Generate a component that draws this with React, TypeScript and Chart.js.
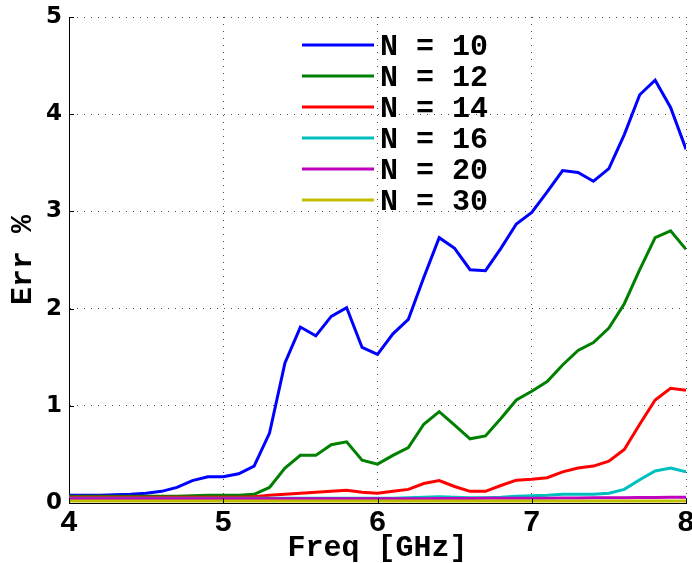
import React, { useEffect, useRef } from "react";
import { Chart, registerables } from "chart.js";

Chart.register(...registerables);

const freq = [
  4.0, 4.1, 4.2, 4.3, 4.4, 4.5, 4.6, 4.7, 4.8, 4.9,
  5.0, 5.1, 5.2, 5.3, 5.4, 5.5, 5.6, 5.7, 5.8, 5.9,
  6.0, 6.1, 6.2, 6.3, 6.4, 6.5, 6.6, 6.7, 6.8, 6.9,
  7.0, 7.1, 7.2, 7.3, 7.4, 7.5, 7.6, 7.7, 7.8, 7.9, 8.0,
];

const errN10 = [
  0.08, 0.08, 0.08, 0.085, 0.09, 0.1, 0.12, 0.16, 0.23, 0.27,
  0.27, 0.3, 0.38, 0.72, 1.44, 1.81, 1.72, 1.92, 2.01, 1.6,
  1.53, 1.74, 1.89, 2.32, 2.73, 2.62, 2.4, 2.39, 2.62, 2.87,
  2.99, 3.2, 3.42, 3.4, 3.31, 3.44, 3.79, 4.2, 4.35, 4.07, 3.64,
];

const errN12 = [
  0.07, 0.07, 0.07, 0.07, 0.07, 0.07, 0.07, 0.07, 0.075, 0.08,
  0.08, 0.08, 0.09, 0.16, 0.36, 0.49, 0.49, 0.6, 0.63, 0.44,
  0.4, 0.49, 0.57, 0.81, 0.94, 0.8, 0.66, 0.69, 0.87, 1.06,
  1.15, 1.25, 1.42, 1.57, 1.65, 1.8, 2.05, 2.4, 2.73, 2.8, 2.61,
];

const errN14 = [
  0.06, 0.06, 0.06, 0.06, 0.06, 0.06, 0.06, 0.06, 0.06, 0.06,
  0.06, 0.06, 0.065, 0.08, 0.09, 0.1, 0.11, 0.12, 0.13, 0.11,
  0.1, 0.12, 0.14, 0.2, 0.23, 0.17, 0.12, 0.12, 0.18, 0.235,
  0.245, 0.26, 0.32, 0.36, 0.38, 0.43, 0.55, 0.81, 1.06, 1.18, 1.16,
];

const errN16 = [
  0.05, 0.05, 0.05, 0.05, 0.05, 0.05, 0.05, 0.05, 0.05, 0.05,
  0.05, 0.05, 0.05, 0.05, 0.05, 0.05, 0.05, 0.05, 0.05, 0.05,
  0.05, 0.05, 0.055, 0.06, 0.065, 0.06, 0.055, 0.055, 0.06, 0.07,
  0.075, 0.08, 0.09, 0.09, 0.09, 0.1, 0.14, 0.24, 0.33, 0.36, 0.32,
];

const errN20 = [
  0.045, 0.045, 0.045, 0.045, 0.045, 0.045, 0.045, 0.045, 0.045, 0.045,
  0.045, 0.045, 0.045, 0.045, 0.045, 0.045, 0.045, 0.045, 0.045, 0.045,
  0.045, 0.045, 0.045, 0.045, 0.047, 0.047, 0.047, 0.048, 0.048, 0.049,
  0.05, 0.05, 0.051, 0.052, 0.053, 0.054, 0.055, 0.056, 0.057, 0.058, 0.06,
];

const errN30 = [
  0.02, 0.02, 0.02, 0.02, 0.02, 0.02, 0.02, 0.02, 0.02, 0.02,
  0.02, 0.02, 0.02, 0.02, 0.02, 0.02, 0.02, 0.02, 0.02, 0.02,
  0.02, 0.02, 0.02, 0.02, 0.02, 0.02, 0.02, 0.02, 0.02, 0.02,
  0.02, 0.02, 0.02, 0.02, 0.02, 0.02, 0.02, 0.02, 0.02, 0.02, 0.02,
];

const seriesLabels = ["N = 10", "N = 12", "N = 14", "N = 16", "N = 20", "N = 30"];
const seriesValues = [errN10, errN12, errN14, errN16, errN20, errN30];
const seriesColors = ["#0000ff", "#008000", "#ff0000", "#00bfbf", "#bf00bf", "#bfbf00"];

const xTickValues = [4, 5, 6, 7, 8];
const yTickValues = [0, 1, 2, 3, 4, 5];
const xTitle = "Freq [GHz]";
const yTitle = "Err %";

const MONO = '"Liberation Mono", "DejaVu Sans Mono", monospace';
const SANS = '"DejaVu Sans", "Liberation Sans", sans-serif';

const legendPlugin = {
  id: "matlabLegend",
  afterDatasetsDraw(chart: any) {
    const ctx = chart.ctx;
    ctx.save();
    ctx.font = `bold 30px ${MONO}`;
    ctx.textBaseline = "middle";
    ctx.textAlign = "left";
    chart.data.datasets.forEach((ds: any, i: number) => {
      const y = 45 + i * 31;
      ctx.strokeStyle = ds.borderColor;
      ctx.lineWidth = 3;
      ctx.beginPath();
      ctx.moveTo(302, y);
      ctx.lineTo(374, y);
      ctx.stroke();
      ctx.fillStyle = "#000";
      ctx.fillText(ds.label, 380, y + 2);
    });
    ctx.restore();
  },
};

const tickMarksPlugin = {
  id: "inwardTicks",
  afterDraw(chart: any) {
    const ctx = chart.ctx;
    const xs = chart.scales.x;
    const ys = chart.scales.y;
    const { left, bottom } = chart.chartArea;
    ctx.save();
    ctx.strokeStyle = "#000";
    ctx.lineWidth = 1;
    ctx.beginPath();
    xTickValues.forEach((v) => {
      const px = Math.round(xs.getPixelForValue(v)) + 0.5;
      ctx.moveTo(px, bottom);
      ctx.lineTo(px, bottom - 5);
    });
    yTickValues.forEach((v) => {
      const py = Math.round(ys.getPixelForValue(v)) + 0.5;
      ctx.moveTo(left, py);
      ctx.lineTo(left + 5, py);
    });
    ctx.stroke();
    ctx.restore();
  },
};

export default function App() {
  const canvasRef = useRef<HTMLCanvasElement | null>(null);

  useEffect(() => {
    const canvas = canvasRef.current;
    if (!canvas) return;
    const datasets = seriesLabels.map((label, i) => ({
      label,
      data: freq.map((f, j) => ({ x: f, y: seriesValues[i][j] })),
      borderColor: seriesColors[i],
      backgroundColor: seriesColors[i],
      borderWidth: 3,
      pointRadius: 0,
      tension: 0,
      fill: false,
      order: seriesLabels.length - 1 - i,
    }));

    const chart = new Chart(canvas, {
      type: "line",
      data: { datasets },
      options: {
        animation: false,
        responsive: false,
        devicePixelRatio: 1,
        layout: { padding: { top: 17, right: 6, left: 0, bottom: 0 } },
        plugins: {
          legend: { display: false },
          tooltip: { enabled: false },
        },
        scales: {
          x: {
            type: "linear",
            min: 4,
            max: 8,
            afterBuildTicks: (scale: any) => {
              scale.ticks = xTickValues.map((v) => ({ value: v }));
            },
            afterFit: (scale: any) => {
              scale.height = 60;
              scale.paddingLeft = 0;
              scale.paddingRight = 0;
            },
            ticks: {
              color: "#000",
              font: { family: MONO, size: 30, weight: "bold" },
              padding: 2,
              maxRotation: 0,
              autoSkip: false,
            },
            grid: {
              color: "#4a4a4a",
              lineWidth: 1,
              drawTicks: false,
            },
            border: { display: true, color: "#000", width: 1, dash: [1, 6] },
            title: {
              display: true,
              text: xTitle,
              color: "#000",
              font: { family: MONO, size: 30, weight: "bold", lineHeight: 1 },
              padding: { top: 0, bottom: 0 },
            },
          },
          y: {
            type: "linear",
            min: 0,
            max: 5,
            afterBuildTicks: (scale: any) => {
              scale.ticks = yTickValues.map((v) => ({ value: v }));
            },
            afterFit: (scale: any) => {
              scale.width = 69;
              scale.paddingTop = 0;
              scale.paddingBottom = 0;
            },
            ticks: {
              color: "#000",
              font: { family: SANS, size: 23, weight: "bold" },
              padding: 7,
              autoSkip: false,
            },
            grid: {
              color: "#4a4a4a",
              lineWidth: 1,
              drawTicks: false,
            },
            border: { display: true, color: "#000", width: 1, dash: [1, 6] },
            title: {
              display: true,
              text: yTitle,
              color: "#000",
              font: { family: MONO, size: 30, weight: "bold", lineHeight: 1 },
              padding: { top: 8, bottom: 0 },
            },
          },
        },
      },
      plugins: [legendPlugin, tickMarksPlugin],
    });

    return () => chart.destroy();
  }, []);

  return (
    <div style={{ position: "fixed", left: 0, top: 0, width: 692, height: 563, background: "#fff" }}>
      <canvas ref={canvasRef} width={692} height={563} style={{ display: "block", width: 692, height: 563 }} />
    </div>
  );
}
